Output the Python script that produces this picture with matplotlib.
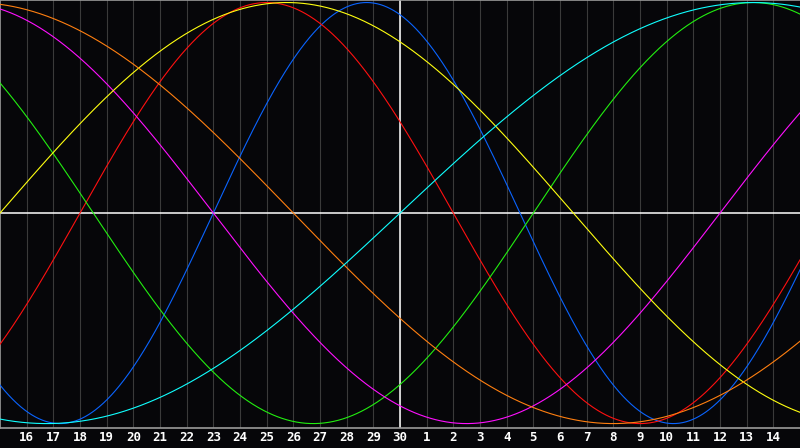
import numpy as np
import matplotlib
matplotlib.use('Agg')
import matplotlib.pyplot as plt

# Day labels along the bottom (index 1..29), today = index 15
day_labels = ['16', '17', '18', '19', '20', '21', '22', '23', '24', '25', '26', '27',
              '28', '29', '30', '1', '2', '3', '4', '5', '6', '7', '8', '9', '10',
              '11', '12', '13', '14']
today_index = 15

# Cycles: period in days, day index where the curve crosses zero going up
periods = [23, 28, 33, 38, 43, 48, 53]
rise_index = [8.0, 3.0, 20.0, 27.0, 0.0, 35.0, 15.0]
colors = ['#0a64ff', '#ff1010', '#22ee10', '#ff10ff', '#ffff10', '#ff7f10', '#10ffff']

bg = '#060609'

fig = plt.figure(figsize=(8, 4.48), dpi=100, facecolor=bg)
ax = fig.add_axes([0, 1 - 428 / 448, 1, 428 / 448])
ax.set_facecolor(bg)

# grid lines
for i in range(1, 30):
    ax.axvline(i, color='#3a3a3a', lw=0.8, zorder=1)
ax.axhline(0, color='white', lw=1.1, zorder=2)
ax.axvline(today_index, color='white', lw=1.1, zorder=2)

x = np.linspace(0, 30, 1200)
for p, r, c in zip(periods, rise_index, colors):
    ax.plot(x, np.sin(2 * np.pi * (x - r) / p), color=c, lw=0.8, zorder=3)

ax.set_xlim(0, 30)
ax.set_ylim(-1.021, 1.012)
ax.set_xticks([])
ax.set_yticks([])
ax.spines['right'].set_visible(False)
for side in ['left', 'top', 'bottom']:
    ax.spines[side].set_color('#9a9a9a')
    ax.spines[side].set_linewidth(1.2)

for i, lab in enumerate(day_labels):
    ax.text(i + 1, -1.068, lab, color='white', fontsize=9, fontweight='bold',
            family='DejaVu Sans Mono', ha='center', va='center', clip_on=False)

fig.savefig('out.png', dpi=100, facecolor=bg)
